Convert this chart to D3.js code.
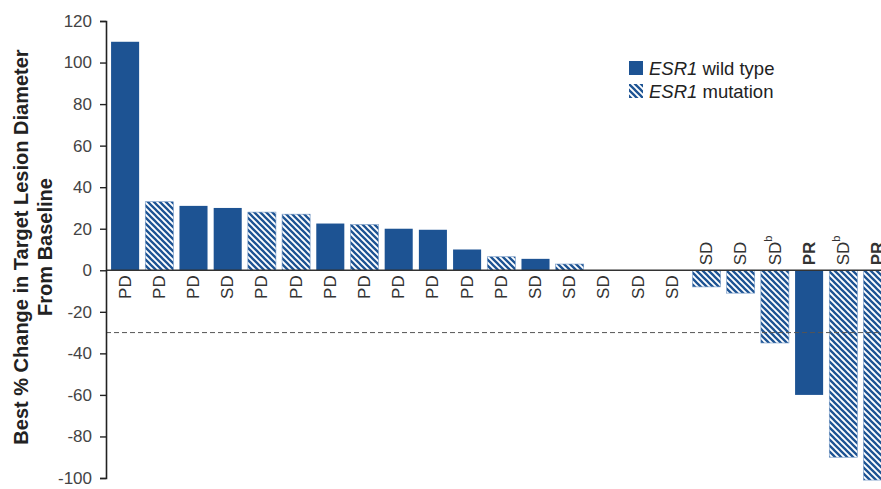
<!DOCTYPE html>
<html>
<head>
<meta charset="utf-8">
<script src="https://cdn.jsdelivr.net/npm/d3@7"></script>
<style>
  html, body { margin: 0; padding: 0; background: #fff; }
  svg { display: block; font-family: "Liberation Sans", Arial, sans-serif; }
</style>
</head>
<body>
<svg id="chart" width="881" height="489"></svg>
<script>
// Best % change per patient, ordered as in the waterfall
const values   = [110, 33, 31, 30, 28, 27, 22.5, 22, 20, 19.5, 10, 6.5, 5.5, 3, 0, 0, 0, -8, -11, -35, -60, -90, -101];
// "wt" = ESR1 wild type, "mut" = ESR1 mutation
const status   = ["wt","mut","wt","wt","mut","mut","wt","mut","wt","wt","wt","mut","wt","mut","wt","wt","wt","mut","mut","mut","wt","mut","mut"];
// Best overall response
const response = ["PD","PD","PD","SD","PD","PD","PD","PD","PD","PD","PD","PD","SD","SD","SD","SD","SD","SD","SD","SDb","PR","SDb","PR"];
const yTicks   = [120, 100, 80, 60, 40, 20, 0, -20, -40, -60, -80, -100];
const threshold = -30;
const legendItems = [
  { key: "wt",  label: " wild type" },
  { key: "mut", label: " mutation" }
];

const blue = "#1d5393";
const svg = d3.select("#chart");

// Diagonal hatch for mutation bars
const defs = svg.append("defs");
const pat = defs.append("pattern")
  .attr("id", "hatch")
  .attr("patternUnits", "userSpaceOnUse")
  .attr("width", 6).attr("height", 6);
pat.append("rect").attr("width", 6).attr("height", 6).attr("fill", "#fff");
pat.append("path")
  .attr("d", "M-1.5,-1.5 L7.5,7.5 M-1.5,4.5 L1.5,7.5 M4.5,-1.5 L7.5,1.5")
  .attr("stroke", blue).attr("stroke-width", 2.3);

const y = d3.scaleLinear().domain([-100, 120]).range([478, 21]);
const x = d3.scaleBand()
  .domain(d3.range(values.length))
  .range([108, 108 + values.length * 34.2])
  .paddingInner(0.18).paddingOuter(0.09);

// Bars
svg.append("g").selectAll("rect")
  .data(values)
  .join("rect")
  .attr("x", (d, i) => x(i))
  .attr("width", x.bandwidth())
  .attr("y", d => y(Math.max(0, d)))
  .attr("height", d => Math.abs(y(d) - y(0)))
  .attr("fill", (d, i) => status[i] === "mut" ? "url(#hatch)" : blue)
  .attr("stroke", (d, i) => status[i] === "mut" ? "#6f95c4" : "none")
  .attr("stroke-width", 0.6);

// Zero line and -30% reference line
svg.append("line")
  .attr("x1", 106).attr("x2", 881)
  .attr("y1", y(0)).attr("y2", y(0))
  .attr("stroke", "#333").attr("stroke-width", 1.3);
svg.append("line")
  .attr("x1", 106).attr("x2", 881)
  .attr("y1", y(threshold)).attr("y2", y(threshold))
  .attr("stroke", "#555").attr("stroke-width", 1)
  .attr("stroke-dasharray", "5,3");

// Y axis
const yAxis = svg.append("g")
  .attr("transform", "translate(106,0)")
  .call(d3.axisLeft(y).tickValues(yTicks).tickFormat(d => String(d))
    .tickSize(6).tickPadding(8).tickSizeOuter(6));
yAxis.select(".domain").attr("stroke", "#222").attr("stroke-width", 1.6);
yAxis.selectAll(".tick line").attr("stroke", "#222").attr("stroke-width", 1.4);
yAxis.selectAll(".tick text")
  .attr("font-size", 17).attr("fill", "#444")
  .attr("font-family", "'Liberation Sans', Arial, sans-serif");

// Axis title
const title = svg.append("text")
  .attr("transform", "translate(28,247) rotate(-90)")
  .attr("text-anchor", "middle")
  .attr("font-size", 20).attr("font-weight", "bold").attr("fill", "#222");
title.append("tspan").attr("x", 0).attr("y", 0).text("Best % Change in Target Lesion Diameter");
title.append("tspan").attr("x", 0).attr("y", 24).text("From Baseline");

// Response labels, rotated; below the zero line for growth, above for shrinkage
const labels = svg.append("g").selectAll("text")
  .data(values)
  .join("text")
  .attr("transform", (d, i) => {
    const cx = x(i) + x.bandwidth() / 2;
    const cy = d >= 0 ? y(0) + 5 : y(0) - 5;
    return `translate(${cx},${cy}) rotate(-90)`;
  })
  .attr("text-anchor", d => d >= 0 ? "end" : "start")
  .attr("dominant-baseline", "central")
  .attr("font-size", 17)
  .attr("fill", "#333")
  .attr("font-weight", (d, i) => response[i] === "PR" ? "bold" : "normal");
labels.each(function(d, i) {
  const t = d3.select(this);
  const r = response[i];
  if (r.endsWith("b")) {
    t.append("tspan").text(r.slice(0, -1));
    t.append("tspan").attr("font-size", 11).attr("dy", -7).text("b");
  } else {
    t.text(r);
  }
});

// Legend
const legend = svg.append("g").attr("transform", "translate(629,61)");
legendItems.forEach((item, k) => {
  const g = legend.append("g").attr("transform", `translate(0,${k * 23})`);
  g.append("rect").attr("width", 14).attr("height", 14)
    .attr("fill", item.key === "mut" ? "url(#hatch)" : blue);
  const t = g.append("text").attr("x", 20).attr("y", 13.5)
    .attr("font-size", 18.5).attr("fill", "#222");
  t.append("tspan").attr("font-style", "italic").text("ESR1");
  t.append("tspan").text(item.label);
});
</script>
</body>
</html>
